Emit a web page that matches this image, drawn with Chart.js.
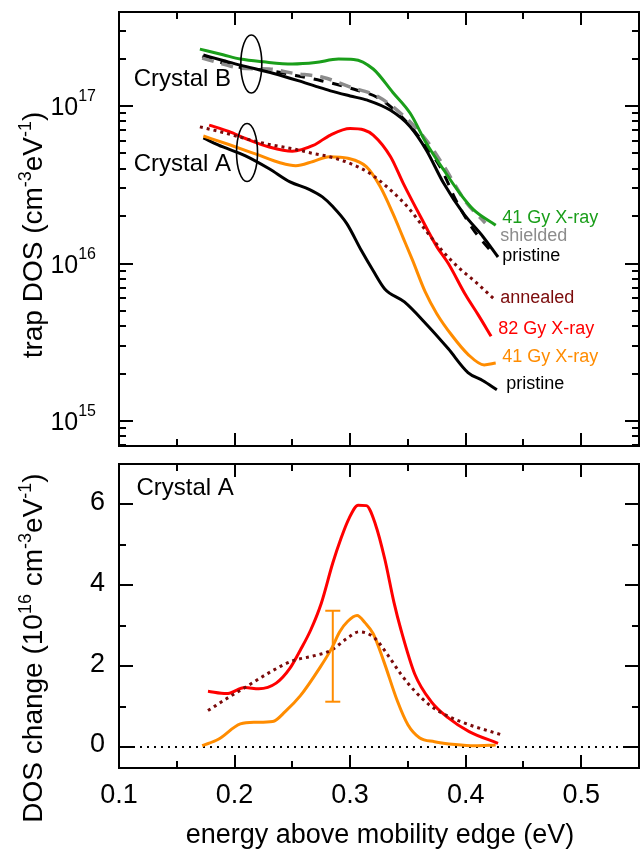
<!DOCTYPE html>
<html>
<head>
<meta charset="utf-8">
<script src="https://cdn.jsdelivr.net/npm/chart.js@4.4.1/dist/chart.umd.min.js"></script>
<style>
  body { margin: 0; background: #fff; }
  #wrap { position: relative; width: 644px; height: 855px; }
  #wrap canvas { position: absolute; left: 0; }
</style>
</head>
<body>
<div id="wrap">
  <canvas id="topChart" width="644" height="455" style="top:0"></canvas>
  <canvas id="bottomChart" width="644" height="400" style="top:455px"></canvas>
</div>
<script>
const FONT = '"Liberation Sans", Arial, sans-serif';

// ---- top panel: trap DOS (cm^-3 eV^-1) vs energy above mobility edge (eV) ----
// Crystal B
const eB41 = [0.170, 0.190, 0.205, 0.225, 0.250, 0.270, 0.290, 0.303, 0.320, 0.337, 0.352, 0.366, 0.381, 0.395, 0.407, 0.426];
const dosB41 = [2.30e17, 2.12e17, 1.99e17, 1.91e17, 1.85e17, 1.89e17, 1.99e17, 1.98e17, 1.72e17, 1.22e17, 9.0e16, 5.8e16, 3.93e16, 2.79e16, 2.19e16, 1.75e16];
const eBShield = [0.172, 0.190, 0.205, 0.230, 0.250, 0.277, 0.299, 0.324, 0.346, 0.365, 0.380, 0.400, 0.417];
const dosBShield = [2.02e17, 1.85e17, 1.74e17, 1.72e17, 1.62e17, 1.52e17, 1.33e17, 1.15e17, 8.7e16, 6.2e16, 4.28e16, 2.47e16, 1.81e16];
const eBRef = [0.172, 0.190, 0.205, 0.230, 0.250, 0.275, 0.300, 0.325, 0.345, 0.365, 0.379, 0.391, 0.405, 0.423];
const dosBRef = [2.06e17, 1.88e17, 1.76e17, 1.68e17, 1.58e17, 1.45e17, 1.30e17, 1.12e17, 8.5e16, 5.65e16, 3.98e16, 2.57e16, 1.71e16, 1.17e16];
const eBPristine = [0.173, 0.190, 0.205, 0.234, 0.255, 0.271, 0.283, 0.300, 0.315, 0.335, 0.352, 0.366, 0.381, 0.398, 0.415, 0.428];
const dosBPristine = [2.11e17, 1.95e17, 1.82e17, 1.61e17, 1.45e17, 1.33e17, 1.25e17, 1.16e17, 1.09e17, 9.4e16, 7.4e16, 5.25e16, 3.23e16, 2.08e16, 1.48e16, 1.1e16];
// Crystal A
const eAAnneal = [0.170, 0.190, 0.210, 0.230, 0.250, 0.268, 0.283, 0.300, 0.317, 0.335, 0.352, 0.366, 0.380, 0.394, 0.408, 0.424];
const dosAAnneal = [7.38e16, 6.8e16, 6.2e16, 5.7e16, 5.36e16, 5.0e16, 4.75e16, 4.32e16, 3.74e16, 2.93e16, 2.19e16, 1.6e16, 1.2e16, 9.4e15, 7.7e15, 6.0e15];
const eA82 = [0.178, 0.195, 0.210, 0.230, 0.250, 0.268, 0.283, 0.300, 0.312, 0.320, 0.335, 0.346, 0.361, 0.375, 0.385, 0.400, 0.411, 0.422];
const dosA82 = [7.57e16, 6.9e16, 6.2e16, 5.5e16, 5.17e16, 5.62e16, 6.55e16, 7.2e16, 7.05e16, 6.55e16, 4.77e16, 3.23e16, 1.98e16, 1.28e16, 1.0e16, 6.3e15, 4.7e15, 3.45e15];
const eA41 = [0.173, 0.195, 0.218, 0.240, 0.253, 0.268, 0.282, 0.298, 0.314, 0.326, 0.337, 0.346, 0.354, 0.365, 0.375, 0.388, 0.402, 0.416, 0.426];
const dosA41 = [6.46e16, 5.7e16, 4.97e16, 4.35e16, 4.18e16, 4.45e16, 4.77e16, 4.66e16, 4.12e16, 3.08e16, 2.08e16, 1.45e16, 1.05e16, 6.6e15, 4.8e15, 3.5e15, 2.65e15, 2.27e15, 2.33e15];
const eAPristine = [0.173, 0.190, 0.209, 0.230, 0.248, 0.265, 0.276, 0.285, 0.297, 0.310, 0.320, 0.330, 0.347, 0.367, 0.385, 0.402, 0.415, 0.427];
const dosAPristine = [6.27e16, 5.5e16, 4.85e16, 4.0e16, 3.3e16, 2.95e16, 2.65e16, 2.3e16, 1.8e16, 1.2e16, 9.0e15, 6.9e15, 5.7e15, 4.04e15, 2.87e15, 2.03e15, 1.8e15, 1.58e15];

// ---- bottom panel: DOS change, Crystal A (10^16 cm^-3 eV^-1) ----
const eDiff82 = [0.177, 0.193, 0.209, 0.221, 0.236, 0.248, 0.257, 0.266, 0.275, 0.285, 0.292, 0.299, 0.307, 0.314, 0.322, 0.330, 0.338, 0.344, 0.356, 0.370, 0.385, 0.403, 0.428];
const diff82 = [1.38, 1.32, 1.47, 1.44, 1.58, 1.95, 2.40, 2.90, 3.55, 4.55, 5.15, 5.65, 5.98, 5.97, 5.50, 4.65, 3.57, 2.90, 1.80, 1.13, 0.72, 0.38, 0.09];
const eDiff41 = [0.172, 0.186, 0.205, 0.218, 0.233, 0.244, 0.257, 0.274, 0.284, 0.291, 0.298, 0.306, 0.313, 0.320, 0.329, 0.341, 0.350, 0.360, 0.373, 0.391, 0.408, 0.426];
const diff41 = [0.03, 0.19, 0.57, 0.61, 0.63, 0.88, 1.27, 1.97, 2.44, 2.85, 3.11, 3.25, 3.07, 2.80, 2.13, 1.13, 0.55, 0.23, 0.13, 0.06, 0.03, 0.05];
const eDiffAnneal = [0.177, 0.195, 0.209, 0.230, 0.250, 0.268, 0.284, 0.297, 0.308, 0.321, 0.332, 0.344, 0.356, 0.370, 0.385, 0.403, 0.430];
const diffAnneal = [0.90, 1.23, 1.47, 1.84, 2.13, 2.25, 2.40, 2.68, 2.85, 2.70, 2.30, 1.80, 1.38, 1.01, 0.76, 0.55, 0.31];
// representative error bar
const errE = [0.285];
const errLo = [1.12];
const errHi = [3.37];

// tick labels
const xTickLabels = [0.1, 0.2, 0.3, 0.4, 0.5];
const topTickExp = [15, 16, 17];
const bottomTickLabels = [0, 2, 4, 6];

// curve labels on the right of the top panel (anchored in data units)
const topLabels = [
  { text: '41 Gy X-ray', e: 0.4316, v: 1.95e16, color: '#1a9e1a' },
  { text: 'shielded', e: 0.4299, v: 1.5e16, color: '#8c8c8c' },
  { text: 'pristine', e: 0.4316, v: 1.12e16, color: '#000' },
  { text: 'annealed', e: 0.4299, v: 6.0e15, color: '#7b0a0a' },
  { text: '82 Gy X-ray', e: 0.4281, v: 3.85e15, color: '#ff0000' },
  { text: '41 Gy X-ray', e: 0.4316, v: 2.55e15, color: '#ff8c00' },
  { text: 'pristine', e: 0.4351, v: 1.72e15, color: '#000' }
];

function pts(xs, ys) {
  return xs.map((x, i) => ({ x: x, y: ys[i] }));
}

function curve(label, xs, ys, color, dash, width) {
  return {
    label: label,
    data: pts(xs, ys),
    borderColor: color,
    borderWidth: width || 3,
    borderDash: dash || [],
    borderCapStyle: 'butt',
    pointRadius: 0,
    fill: false,
    cubicInterpolationMode: 'monotone'
  };
}

// draws text made of normal and superscript pieces
function mixedText(ctx, segs, x, y, size, supSize, raise, align) {
  let total = 0;
  const widths = segs.map(s => {
    ctx.font = (s[1] ? supSize : size) + 'px ' + FONT;
    const w = ctx.measureText(s[0]).width;
    total += w;
    return w;
  });
  let cx = align === 'center' ? x - total / 2 : align === 'right' ? x - total : x;
  ctx.textAlign = 'left';
  ctx.textBaseline = 'alphabetic';
  segs.forEach((s, i) => {
    ctx.font = (s[1] ? supSize : size) + 'px ' + FONT;
    ctx.fillText(s[0], cx, s[1] ? y - raise : y);
    cx += widths[i];
  });
}

function line(ctx, x1, y1, x2, y2) {
  ctx.beginPath();
  ctx.moveTo(x1, y1);
  ctx.lineTo(x2, y2);
  ctx.stroke();
}

function drawXTicks(ctx, a, xs) {
  for (let i = 0; i <= 9; i++) {
    const v = 0.1 + i * 0.05;
    const x = Math.round(xs.getPixelForValue(v));
    const len = i % 2 === 0 ? 13 : 7;
    line(ctx, x, a.bottom, x, a.bottom - len);
    line(ctx, x, a.top, x, a.top + len);
  }
}

function drawFrame(ctx, a) {
  ctx.strokeRect(a.left, a.top, a.right - a.left, a.bottom - a.top);
}

const topDecor = {
  id: 'topDecor',
  afterDraw(chart) {
    const ctx = chart.ctx, a = chart.chartArea;
    const xs = chart.scales.x, ys = chart.scales.y;
    ctx.save();
    ctx.strokeStyle = '#000';
    ctx.fillStyle = '#000';
    ctx.lineWidth = 2;
    drawXTicks(ctx, a, xs);
    for (let p = 14; p <= 17; p++) {
      for (let m = 1; m <= 9; m++) {
        const v = m * Math.pow(10, p);
        if (v < ys.min || v > ys.max) continue;
        const y = Math.round(ys.getPixelForValue(v));
        const len = m === 1 ? 14 : 7;
        line(ctx, a.left, y, a.left + len, y);
        line(ctx, a.right - len, y, a.right, y);
      }
    }
    drawFrame(ctx, a);

    // y tick labels 10^n
    topTickExp.forEach(p => {
      const y = ys.getPixelForValue(Math.pow(10, p));
      mixedText(ctx, [['10', false], [String(p), true]], 96, y + 9, 25, 16, 14, 'right');
    });

    // y axis title
    ctx.save();
    ctx.translate(42, 235);
    ctx.rotate(-Math.PI / 2);
    mixedText(ctx, [['trap DOS (cm', false], ['-3', true], ['eV', false], ['-1', true], [')', false]], 0, 0, 28, 18, 11, 'center');
    ctx.restore();

    // crystal ellipses and names
    ctx.lineWidth = 1.6;
    [[0.2145, 1.85e17], [0.2108, 5.07e16]].forEach(c => {
      ctx.beginPath();
      ctx.ellipse(xs.getPixelForValue(c[0]), ys.getPixelForValue(c[1]), 10.5, 29, 0, 0, Math.PI * 2);
      ctx.stroke();
    });
    ctx.font = '24px ' + FONT;
    ctx.textAlign = 'left';
    ctx.textBaseline = 'middle';
    ctx.fillText('Crystal B', xs.getPixelForValue(0.1127), ys.getPixelForValue(1.476e17));
    ctx.fillText('Crystal A', xs.getPixelForValue(0.1127), ys.getPixelForValue(4.29e16));

    ctx.font = '18px ' + FONT;
    topLabels.forEach(l => {
      ctx.fillStyle = l.color;
      ctx.fillText(l.text, xs.getPixelForValue(l.e), ys.getPixelForValue(l.v));
    });
    ctx.restore();
  }
};

const bottomDecor = {
  id: 'bottomDecor',
  beforeDatasetsDraw(chart) {
    const ctx = chart.ctx, a = chart.chartArea;
    const ys = chart.scales.y;
    // dotted zero line
    ctx.save();
    ctx.strokeStyle = '#000';
    ctx.lineWidth = 2;
    ctx.setLineDash([2, 5]);
    const y0 = Math.round(ys.getPixelForValue(0));
    line(ctx, a.left, y0, a.right, y0);
    ctx.restore();
  },
  afterDraw(chart) {
    const ctx = chart.ctx, a = chart.chartArea;
    const xs = chart.scales.x, ys = chart.scales.y;
    ctx.save();
    // error bar
    ctx.strokeStyle = '#ff8c00';
    ctx.lineWidth = 2;
    errE.forEach((e, i) => {
      const x = xs.getPixelForValue(e);
      const yl = ys.getPixelForValue(errLo[i]), yh = ys.getPixelForValue(errHi[i]);
      line(ctx, x, yl, x, yh);
      line(ctx, x - 7.5, yl, x + 7.5, yl);
      line(ctx, x - 7.5, yh, x + 7.5, yh);
    });

    ctx.strokeStyle = '#000';
    ctx.fillStyle = '#000';
    drawXTicks(ctx, a, xs);
    for (let v = 0; v <= 7; v++) {
      const y = Math.round(ys.getPixelForValue(v));
      const len = v % 2 === 0 ? 14 : 7;
      line(ctx, a.left, y, a.left + len, y);
      line(ctx, a.right - len, y, a.right, y);
    }
    drawFrame(ctx, a);

    ctx.font = '27px ' + FONT;
    ctx.textAlign = 'right';
    ctx.textBaseline = 'middle';
    bottomTickLabels.forEach(v => {
      ctx.fillText(String(v), 105, ys.getPixelForValue(v) - 2);
    });
    ctx.textAlign = 'center';
    xTickLabels.forEach(v => {
      ctx.fillText(v.toFixed(1), xs.getPixelForValue(v), 341);
    });
    ctx.fillText('energy above mobility edge (eV)', (a.left + a.right) / 2 + 1, 381);

    ctx.save();
    ctx.translate(42, 193);
    ctx.rotate(-Math.PI / 2);
    mixedText(ctx, [['DOS change (10', false], ['16', true], [' cm', false], ['-3', true], ['eV', false], ['-1', true], [')', false]], 0, 0, 28, 18, 11, 'center');
    ctx.restore();

    ctx.font = '24px ' + FONT;
    ctx.textAlign = 'left';
    ctx.textBaseline = 'middle';
    ctx.fillText('Crystal A', xs.getPixelForValue(0.1151), ys.getPixelForValue(6.4));
    ctx.restore();
  }
};

const baseOptions = {
  responsive: false,
  animation: false,
  events: [],
  plugins: { legend: { display: false }, tooltip: { enabled: false } }
};

document.addEventListener("DOMContentLoaded", () => {
  // 上圖：trap DOS（對數座標）
  new Chart(document.getElementById('topChart'), {
    type: 'line',
    data: {
      datasets: [
        curve('B 41 Gy X-ray', eB41, dosB41, '#1a9e1a'),
        curve('B pristine', eBPristine, dosBPristine, '#000'),
        curve('B shielded', eBShield, dosBShield, '#8c8c8c', [12, 8], 3.5),
        curve('B shielded (before)', eBRef, dosBRef, '#000', [10, 9]),
        curve('A annealed', eAAnneal, dosAAnneal, '#7b0a0a', [3, 4]),
        curve('A 82 Gy X-ray', eA82, dosA82, '#ff0000'),
        curve('A 41 Gy X-ray', eA41, dosA41, '#ff8c00'),
        curve('A pristine', eAPristine, dosAPristine, '#000')
      ]
    },
    options: Object.assign({}, baseOptions, {
      layout: { padding: { left: 119, right: 5, top: 12, bottom: 9 } },
      scales: {
        x: { type: 'linear', min: 0.1, max: 0.55, display: false },
        y: { type: 'logarithmic', min: 6.93e14, max: 3.96e17, display: false }
      }
    }),
    plugins: [topDecor]
  });

  // 下圖：DOS change
  new Chart(document.getElementById('bottomChart'), {
    type: 'line',
    data: {
      datasets: [
        curve('annealed', eDiffAnneal, diffAnneal, '#7b0a0a', [3, 4]),
        curve('82 Gy X-ray', eDiff82, diff82, '#ff0000'),
        curve('41 Gy X-ray', eDiff41, diff41, '#ff8c00')
      ]
    },
    options: Object.assign({}, baseOptions, {
      layout: { padding: { left: 119, right: 5, top: 9, bottom: 87 } },
      scales: {
        x: { type: 'linear', min: 0.1, max: 0.55, display: false },
        y: { type: 'linear', min: -0.52, max: 7.0, display: false }
      }
    }),
    plugins: [bottomDecor]
  });
});
</script>
</body>
</html>
